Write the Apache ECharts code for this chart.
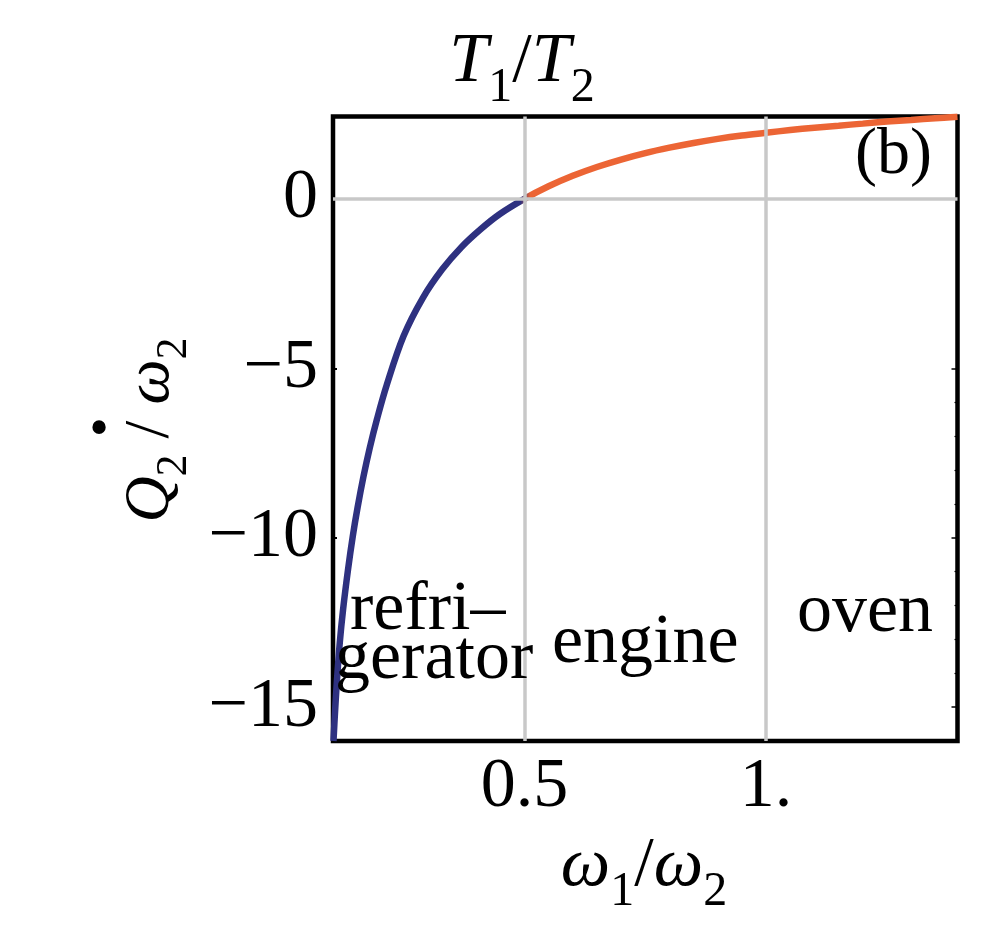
<!DOCTYPE html>
<html>
<head>
<meta charset="utf-8">
<script src="https://cdn.jsdelivr.net/npm/echarts@6/dist/echarts.min.js"></script>
<style>
  html, body { margin: 0; padding: 0; background: #fff; }
  #chart { width: 1000px; height: 950px; }
</style>
</head>
<body>
<div id="chart"></div>
<script>
// curve: refrigerator part (x < 0.5) and engine/oven part
const fridgeX = [0.105, 0.108, 0.112, 0.118, 0.125, 0.135, 0.145, 0.155, 0.167, 0.18, 0.195, 0.215, 0.25, 0.29, 0.33, 0.37, 0.41, 0.45];
const fridgeY = [-16.0, -15.2, -14.25, -13.1, -12.1, -10.95, -9.95, -9.1, -8.2, -7.35, -6.5, -5.5, -4.05, -2.92, -2.08, -1.42, -0.89, -0.44];
const engineX = [0.5, 0.55, 0.6, 0.65, 0.7, 0.75, 0.8, 0.85, 0.9, 0.95, 1.0, 1.05, 1.1, 1.15, 1.2, 1.25, 1.3, 1.35, 1.396];
const engineY = [0, 0.37, 0.68, 0.94, 1.16, 1.35, 1.51, 1.65, 1.77, 1.87, 1.95, 2.03, 2.10, 2.16, 2.22, 2.28, 2.33, 2.38, 2.42];
const switchX = 0.5; // colour changes here

const xTicks = [0.5, 1];
const xTickLabels = ['0.5', '1.'];
const yTicks = [0, -5, -10, -15];
const yTickLabels = ['0', '\u22125', '\u221210', '\u221215'];
const yMinorTicks = [-14, -13, -12, -11, -9, -8, -7, -6];

const FONT = 'Liberation Serif';
const black = '#000';
const blue = '#2e3180';
const orange = '#ec6535';

let zip = function(xs, ys) {
  return xs.map(function(x, i) { return [x, ys[i]]; });
};

// italic letters with lowered subscripts
let mathRich = function(size) {
  let pad = Math.round(size * 0.2);
  return {
    it: { fontFamily: FONT, fontStyle: 'italic', fontSize: size, color: black, padding: [0, 0, pad, 0], verticalAlign: 'bottom' },
    n: { fontFamily: FONT, fontSize: size, color: black, padding: [0, 0, pad, 0], verticalAlign: 'bottom' },
    sub: { fontFamily: FONT, fontSize: Math.round(size * 0.68), color: black, verticalAlign: 'bottom' }
  };
};

let plainText = function(text, x, y, align, size) {
  return {
    type: 'text', x: x, y: y, z: 10,
    style: { text: text, fontFamily: FONT, fontSize: size || 70, fill: black, textAlign: align || 'left', textVerticalAlign: 'middle' }
  };
};

let chart = echarts.init(document.getElementById('chart'));

let option = {
  backgroundColor: '#fff',
  animation: false,
  grid: {
    left: 333, top: 116.5, width: 624.5, height: 624.5,
    show: true, borderColor: black, borderWidth: 4.5, backgroundColor: 'transparent'
  },
  xAxis: [{
    type: 'value', min: 0.104, max: 1.396, position: 'bottom',
    axisLine: { show: false },
    splitLine: { show: false },
    axisTick: { show: true, inside: true, length: 4, customValues: xTicks, lineStyle: { color: black, width: 2 } },
    axisLabel: {
      customValues: xTicks, margin: 12, fontFamily: FONT, fontSize: 70, color: black,
      formatter: function(v) { return xTickLabels[xTicks.indexOf(v)]; }
    }
  }],
  yAxis: [{
    type: 'value', min: -16, max: 2.43, position: 'left',
    axisLine: { show: false },
    splitLine: { show: false },
    axisTick: { show: true, inside: true, length: 4, customValues: yTicks, lineStyle: { color: black, width: 2 } },
    axisLabel: {
      customValues: yTicks, margin: 15, fontFamily: FONT, fontSize: 70, color: black,
      formatter: function(v) { return yTickLabels[yTicks.indexOf(v)]; }
    }
  }, {
    type: 'value', min: -16, max: 2.43, position: 'right',
    axisLine: { show: false }, splitLine: { show: false }, axisLabel: { show: false },
    axisTick: { show: true, inside: true, length: 6, customValues: [-15, -10, -5], lineStyle: { color: black, width: 1.5 } }
  }, {
    type: 'value', min: -16, max: 2.43, position: 'right',
    axisLine: { show: false }, splitLine: { show: false }, axisLabel: { show: false },
    axisTick: { show: true, inside: true, length: 3, customValues: yMinorTicks, lineStyle: { color: black, width: 1.2 } }
  }],
  series: [{
    // only carries the grey grid lines
    type: 'line', data: [], z: 1, silent: true,
    markLine: {
      silent: true, symbol: 'none', label: { show: false },
      lineStyle: { color: '#c8c8c8', width: 3.5, type: 'solid' },
      data: [{ xAxis: 0.5 }, { xAxis: 1 }, { yAxis: 0 }]
    }
  }, {
    name: 'Q2', type: 'line', z: 3,
    data: zip(fridgeX.concat(engineX), fridgeY.concat(engineY)),
    showSymbol: false, smooth: 0.35,
    lineStyle: { width: 6.5, color: blue }
  }],
  graphic: [
    plainText('(b)', 932, 156, 'right', 66),
    plainText('oven', 797, 613),
    plainText('engine', 552, 644),
    plainText('refri\u2013', 350, 611),
    plainText('gerator', 335, 660),
    {
      type: 'text', x: 522, y: 70, z: 10,
      style: { text: '{it|T}{sub|1}{n|/}{it|T}{sub|2}', rich: mathRich(70), textAlign: 'center', textVerticalAlign: 'middle' }
    },
    {
      type: 'text', x: 644, y: 874, z: 10,
      style: { text: '{it|\u03c9}{sub|1}{n|/}{it|\u03c9}{sub|2}', rich: mathRich(70), textAlign: 'center', textVerticalAlign: 'middle' }
    },
    {
      type: 'text', x: 158, y: 430, rotation: Math.PI / 2, z: 10,
      style: { text: '{it|Q}{sub|2}{n| / }{it|\u03c9}{sub|2}', rich: mathRich(64), textAlign: 'center', textVerticalAlign: 'middle' }
    },
    {
      type: 'text', x: 99, y: 431, z: 10,
      style: { text: '\u2022', fontFamily: FONT, fontSize: 56, fill: black, textAlign: 'center', textVerticalAlign: 'middle' }
    }
  ]
};

chart.setOption(option);

// blue left of the switch point, orange right of it (short blend like the original)
let sx = chart.convertToPixel({ xAxisIndex: 0 }, switchX) / 1000;
chart.setOption({
  series: [{}, {
    lineStyle: {
      color: new echarts.graphic.LinearGradient(0, 0, 1000, 0, [
        { offset: 0, color: blue },
        { offset: sx - 0.004, color: blue },
        { offset: sx + 0.006, color: orange },
        { offset: 1, color: orange }
      ], true)
    }
  }]
});
</script>
</body>
</html>
